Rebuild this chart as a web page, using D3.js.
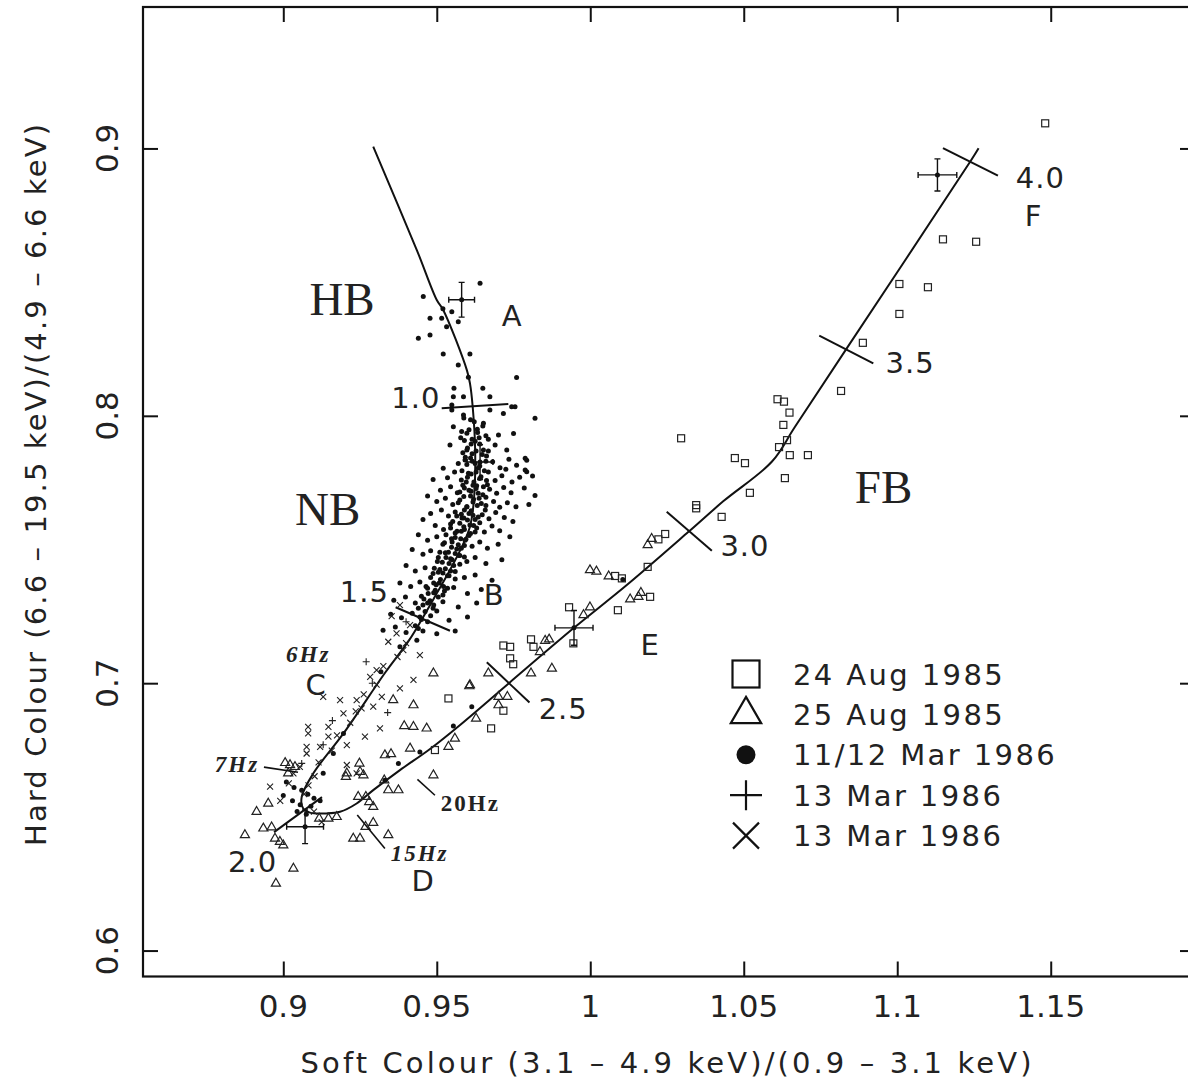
<!DOCTYPE html>
<html>
<head>
<meta charset="utf-8">
<script src="https://cdn.jsdelivr.net/npm/d3@7"></script>
<style>
body { margin:0; background:#fff; }
svg { display:block; font-family:"DejaVu Sans", sans-serif; }
</style>
</head>
<body>
<svg width="1188" height="1083"></svg>
<script>
// tick labels
var xTicks = [0.9, 0.95, 1, 1.05, 1.1, 1.15];
var yTicks = [0.6, 0.7, 0.8, 0.9];

// Z track, HB top down to the 2.0 vertex, then FB up to the end
var zTrack = [[0.9293,0.9007],[0.9435,0.8620],[0.9500,0.8433],[0.9521,0.8396],[0.9598,0.8171],[0.9608,0.8122],[0.9617,0.8034],
	[0.9625,0.7872],[0.9621,0.7685],[0.9608,0.7585],[0.9587,0.7523],[0.9543,0.7423],[0.9500,0.7336],[0.9456,0.7248],[0.9410,0.7161],
	[0.9331,0.7038],[0.9196,0.6812],[0.9098,0.6663],[0.9060,0.6575],[0.9064,0.6533],[0.9087,0.6516],[0.9141,0.6513],[0.9185,0.6519],
	[0.9239,0.6550],[0.9293,0.6600],[0.9380,0.6675],[0.9478,0.6754],[0.9576,0.6844],[0.9736,0.7001],[0.9947,0.7207],[1.0119,0.7367],
	[1.0320,0.7566],[1.0434,0.7681],[1.0592,0.7829],[1.0667,0.7959],[1.0836,0.8253],[1.1238,0.8951],[1.1265,0.9001]];

// rank numbers along the track
var rankLabels = ["1.0", "1.5", "2.0", "2.5", "3.0", "3.5", "4.0"];
var rankFrom = [[0.9516,0.8028],[0.9366,0.7284],[0.8970,0.6443],[0.9663,0.7078],[1.0249,0.7641],[1.0746,0.8300],[1.1149,0.9001]];
var rankTo = [[0.9733,0.8044],[0.9543,0.7196],[0.9126,0.6574],[0.9802,0.6928],[1.0396,0.7495],[1.0922,0.8196],[1.1328,0.8898]];

// 24 Aug 1985
var aug24 = [[1.1482,0.9094],[1.1149,0.8660],[1.1257,0.8651],[1.1007,0.8493],[1.1100,0.8481],[1.1007,0.8381],[1.0888,0.8273],
	[1.0817,0.8093],[1.0610,0.8062],[1.0631,0.8053],[1.0649,0.8012],[1.0629,0.7966],[1.0615,0.7883],[1.0641,0.7909],[1.0650,0.7853],
	[1.0709,0.7853],[1.0634,0.7767],[1.0296,0.7916],[1.0471,0.7842],[1.0504,0.7823],[1.0520,0.7712],[1.0345,0.7666],[1.0345,0.7654],
	[1.0428,0.7622],[1.0244,0.7558],[1.0222,0.7538],[1.0187,0.7435],[1.0081,0.7401],[1.0103,0.7392],[1.0195,0.7323],[1.0090,0.7273],
	[0.9931,0.7284],[0.9945,0.7149],[0.9807,0.7164],[0.9815,0.7136],[0.9717,0.7141],[0.9739,0.7136],[0.9739,0.7093],[0.9749,0.7071],
	[0.9538,0.6943],[0.9717,0.6897],[0.9677,0.6831],[0.9494,0.6750]];

// 25 Aug 1985
var aug25 = [[1.0187,0.7517],[0.9999,0.7423],[1.0020,0.7418],[1.0060,0.7400],[1.0200,0.7540],[0.9999,0.7284],[0.9978,0.7255],
	[0.9853,0.7159],[0.9866,0.7164],[0.9836,0.7117],[0.9875,0.7055],[0.9807,0.7037],[0.9668,0.7037],[0.9608,0.6993],[0.9701,0.6949],
	[0.9730,0.6949],[0.9701,0.6918],[0.9628,0.6868],[0.9467,0.6831],[0.9559,0.6793],[0.9538,0.6762],[0.9489,0.6656],[1.0130,0.7314],
	[1.0157,0.7323],[1.0165,0.7338],[0.9489,0.7037],[0.9606,0.6989],[0.9424,0.6918],[0.9358,0.6937],[0.9394,0.6840],[0.9424,0.6837],
	[0.9413,0.6756],[0.9331,0.6731],[0.9351,0.6735],[0.9248,0.6700],[0.9204,0.6650],[0.9250,0.6669],[0.9261,0.6656],[0.9375,0.6600],
	[0.9342,0.6600],[0.9329,0.6637],[0.9006,0.6702],[0.9022,0.6694],[0.9038,0.6687],[0.9016,0.6663],[0.9244,0.6575],[0.9269,0.6575],
	[0.9280,0.6556],[0.9293,0.6538],[0.9117,0.6494],[0.9147,0.6494],[0.9174,0.6500],[0.9268,0.6463],[0.9293,0.6478],[0.9342,0.6432],
	[0.9228,0.6419],[0.9250,0.6419],[0.8913,0.6519],[0.8875,0.6432],[0.8935,0.6457],[0.8962,0.6461],[0.8973,0.6419],[0.8989,0.6407],
	[0.9000,0.6394],[0.9033,0.6307],[0.8976,0.6251],[0.9207,0.6663],[0.8951,0.6550]];

// 11/12 Mar 1986
var mar11 = [[0.9641,0.8496],[0.9456,0.8446],[0.9478,0.8365],[0.9516,0.8365],[0.9549,0.8389],[0.9570,0.8352],[0.9520,0.8400],
	[0.9440,0.8290],[0.9478,0.8302],[0.9532,0.8333],[0.9521,0.8231],[0.9608,0.8231],[0.9570,0.8190],[0.9760,0.8143],[0.9603,0.8144],
	[0.9556,0.8103],[0.9650,0.8103],[0.9554,0.8071],[0.9587,0.8071],[0.9673,0.8071],[0.9549,0.8040],[0.9755,0.8034],[0.9820,0.7991],
	[0.9549,0.8022],[0.9587,0.8003],[0.9673,0.8022],[0.9717,0.8009],[0.9744,0.8034],
	[0.9554,0.7959],[0.9581,0.7941],[0.9652,0.7972],[0.9701,0.7928],[0.9750,0.7934],[0.9610,0.7985],[0.9632,0.7950],
	[0.9543,0.7891],[0.9598,0.7872],[0.9652,0.7872],[0.9690,0.7891],[0.9728,0.7872],[0.9788,0.7841],[0.9793,0.7791],[0.9625,0.7905],
	[0.9578,0.7918],[0.9668,0.7912],[0.9521,0.7804],[0.9570,0.7822],[0.9593,0.7845],[0.9616,0.7830],[0.9640,0.7812],[0.9662,0.7850],
	[0.9682,0.7828],[0.9706,0.7806],[0.9735,0.7838],[0.9760,0.7815],[0.9488,0.7762],[0.9812,0.7775],
	[0.9535,0.7768],[0.9558,0.7790],[0.9580,0.7760],[0.9603,0.7785],[0.9621,0.7752],[0.9644,0.7772],[0.9668,0.7790],[0.9690,0.7758],
	[0.9712,0.7776],[0.9745,0.7752],[0.9770,0.7770],[0.9725,0.7800],
	[0.9512,0.7722],[0.9545,0.7735],[0.9567,0.7712],[0.9590,0.7730],[0.9612,0.7718],[0.9630,0.7738],[0.9650,0.7705],[0.9672,0.7725],
	[0.9695,0.7710],[0.9718,0.7732],[0.9742,0.7712],[0.9785,0.7730],[0.9820,0.7702],[0.9470,0.7700],
	[0.9500,0.7680],[0.9528,0.7692],[0.9552,0.7668],[0.9575,0.7685],[0.9598,0.7660],[0.9618,0.7678],[0.9638,0.7692],[0.9660,0.7665],
	[0.9685,0.7680],[0.9705,0.7658],[0.9730,0.7675],[0.9758,0.7660],[0.9800,0.7668],
	[0.9480,0.7635],[0.9515,0.7648],[0.9538,0.7625],[0.9560,0.7640],[0.9582,0.7618],[0.9605,0.7635],[0.9625,0.7612],[0.9648,0.7630],
	[0.9670,0.7615],[0.9692,0.7638],[0.9720,0.7620],[0.9748,0.7605],[0.9455,0.7612],
	[0.9495,0.7590],[0.9522,0.7575],[0.9545,0.7595],[0.9566,0.7568],[0.9588,0.7585],[0.9610,0.7560],[0.9630,0.7580],[0.9655,0.7565],
	[0.9680,0.7588],[0.9705,0.7570],[0.9738,0.7548],[0.9440,0.7555],
	[0.9470,0.7535],[0.9500,0.7548],[0.9525,0.7525],[0.9548,0.7540],[0.9570,0.7518],[0.9592,0.7535],[0.9615,0.7512],[0.9640,0.7528],
	[0.9665,0.7505],[0.9700,0.7520],[0.9420,0.7500],
	[0.9455,0.7482],[0.9480,0.7495],[0.9505,0.7470],[0.9528,0.7488],[0.9550,0.7462],[0.9575,0.7478],[0.9598,0.7455],[0.9625,0.7470],
	[0.9660,0.7448],[0.9400,0.7440],[0.9712,0.7462],
	[0.9430,0.7420],[0.9462,0.7432],[0.9488,0.7410],[0.9510,0.7425],[0.9535,0.7402],[0.9560,0.7418],[0.9590,0.7395],[0.9625,0.7405],
	[0.9680,0.7385],[0.9380,0.7375],[0.9415,0.7362],[0.9445,0.7378],[0.9470,0.7355],[0.9498,0.7368],[0.9525,0.7345],[0.9555,0.7358],
	[0.9600,0.7335],[0.9645,0.7350],[0.9360,0.7310],[0.9398,0.7322],[0.9430,0.7300],[0.9458,0.7315],[0.9490,0.7292],[0.9520,0.7305],
	[0.9570,0.7285],[0.9630,0.7300],[0.9350,0.7258],[0.9385,0.7245],[0.9420,0.7262],[0.9450,0.7238],[0.9480,0.7252],[0.9540,0.7235],
	[0.9600,0.7248],[0.9325,0.7198],[0.9365,0.7210],[0.9400,0.7190],[0.9440,0.7205],[0.9500,0.7185],[0.9560,0.7195],
	[0.9605,0.7948],[0.9633,0.7938],[0.9615,0.7912],[0.9640,0.7895],[0.9600,0.7880],[0.9628,0.7868],[0.9648,0.7855],[0.9610,0.7842],
	[0.9598,0.7818],[0.9635,0.7805],[0.9655,0.7795],[0.9612,0.7782],[0.9640,0.7766],[0.9596,0.7752],[0.9618,0.7740],[0.9652,0.7735],
	[0.9605,0.7722],[0.9635,0.7710],[0.9588,0.7698],[0.9620,0.7688],[0.9645,0.7672],[0.9598,0.7660],[0.9612,0.7645],[0.9580,0.7632],
	[0.9635,0.7622],[0.9600,0.7610],[0.9575,0.7598],[0.9620,0.7590],[0.9590,0.7575],[0.9560,0.7562],[0.9605,0.7552],[0.9578,0.7540],
	[0.9550,0.7528],[0.9590,0.7515],[0.9565,0.7502],[0.9538,0.7490],[0.9572,0.7478],[0.9545,0.7465],[0.9518,0.7452],[0.9555,0.7440],
	[0.9528,0.7428],[0.9505,0.7415],[0.9540,0.7402],[0.9512,0.7388],[0.9490,0.7375],[0.9522,0.7362],[0.9495,0.7348],[0.9472,0.7335],
	[0.9505,0.7322],[0.9478,0.7308],[0.9455,0.7292],[0.9488,0.7280],[0.9462,0.7268],
	[0.9588,0.7992],[0.9622,0.7978],[0.9650,0.7962],[0.9598,0.7935],[0.9660,0.7925],[0.9590,0.7908],[0.9638,0.7918],[0.9612,0.7895],
	[0.9585,0.7862],[0.9615,0.7858],[0.9668,0.7868],[0.9592,0.7835],[0.9625,0.7822],[0.9660,0.7830],[0.9582,0.7795],[0.9628,0.7790],
	[0.9600,0.7770],[0.9662,0.7758],[0.9585,0.7740],[0.9628,0.7728],[0.9665,0.7742],[0.9575,0.7715],[0.9610,0.7700],[0.9660,0.7695],
	[0.9570,0.7675],[0.9632,0.7665],[0.9590,0.7648],[0.9658,0.7648],[0.9565,0.7625],[0.9618,0.7628],[0.9588,0.7618],[0.9552,0.7605],
	[0.9640,0.7600],[0.9608,0.7592],[0.9545,0.7580],[0.9580,0.7568],[0.9625,0.7565],[0.9530,0.7555],[0.9595,0.7538],[0.9560,0.7545],
	[0.9520,0.7520],[0.9580,0.7505],[0.9548,0.7508],[0.9510,0.7490],[0.9560,0.7485],[0.9530,0.7470],[0.9590,0.7472],[0.9502,0.7455],
	[0.9540,0.7448],[0.9575,0.7445],[0.9492,0.7430],[0.9545,0.7420],[0.9520,0.7412],[0.9480,0.7395],[0.9560,0.7390],[0.9508,0.7375],
	[0.9465,0.7362],[0.9535,0.7355],[0.9490,0.7338],[0.9450,0.7325],[0.9520,0.7330],[0.9470,0.7300],[0.9440,0.7280],[0.9500,0.7270],
	[0.9445,0.7248],[0.9470,0.7230],[0.9430,0.7215],[0.9455,0.7195],
	[0.9793,0.7834],[0.9788,0.7797],[0.9318,0.7043],[0.9196,0.6812],[0.9163,0.6737],[0.9130,0.6663],[0.9380,0.7136],[0.9435,0.7161],
	[0.9010,0.6630],[0.9035,0.6610],[0.9060,0.6600],[0.9080,0.6585],[0.9100,0.6570],[0.9030,0.6560],[0.9055,0.6545],[0.9090,0.6540],
	[0.9120,0.6560],[0.9000,0.6580],[0.9045,0.6520],[0.9075,0.6510],
	[0.9554,0.6840],[0.9614,0.6912],[1.0106,0.7388],[0.9445,0.6743],[0.9331,0.6637],[0.9375,0.6700]];

// 13 Mar 1986, plus
var mar13p = [[0.9400,0.7230],[0.9290,0.7000],[0.9340,0.6890],[0.9160,0.6860],[0.9130,0.6770],[0.9270,0.7080],[0.9060,0.6700]];

// 13 Mar 1986, cross
var mar13x = [[0.9353,0.7251],[0.9369,0.7186],[0.9413,0.7217],[0.9342,0.7155],[0.9391,0.7124],[0.9445,0.7105],[0.9424,0.7012],
	[0.9380,0.6981],[0.9321,0.6949],[0.9283,0.7024],[0.9304,0.7049],[0.9239,0.6937],[0.9255,0.6906],[0.9293,0.6912],[0.9315,0.6831],
	[0.9266,0.6800],[0.9207,0.6768],[0.9147,0.6837],[0.9147,0.6800],[0.9081,0.6837],[0.9081,0.6812],[0.9076,0.6762],[0.9076,0.6737],
	[0.9120,0.6762],[0.9207,0.6694],[0.9239,0.6663],[0.9033,0.6663],[0.9054,0.6687],[0.9185,0.6937],[0.9196,0.6887],[0.9130,0.6949],
	[0.9380,0.7292],[0.9400,0.7150],[0.9372,0.7098],[0.9326,0.7064],[0.9304,0.6995],[0.9262,0.6958],[0.9236,0.6895],[0.9218,0.6852],
	[0.9175,0.6805],[0.9158,0.6748],[0.9115,0.6704],[0.9102,0.6652],[0.9082,0.6618],[0.9068,0.6585],[0.8957,0.6613],[0.8990,0.6560],
	[0.9018,0.6625],[0.9100,0.6520],[0.9125,0.6480]];

// error bars: x, y, half width, half height
var errBars = [[0.9581,0.8434,0.0042,0.0065],[0.9641,0.7827,0.0042,0.0065],[0.9947,0.7207,0.0062,0.0065],
	[1.1131,0.8901,0.0063,0.0060],[0.9071,0.6463,0.0060,0.0063]];

var legendNames = ["24 Aug 1985", "25 Aug 1985", "11/12 Mar 1986", "13 Mar 1986", "13 Mar 1986"];
var legendShapes = ["square", "triangle", "dot", "plus", "cross"];

function ready() {
	var svg = d3.select("svg");
	var x = d3.scaleLinear().domain([0.8543, 1.1970]).range([143, 1195]);
	var y = d3.scaleLinear().domain([0.5903, 0.9529]).range([976.5, 7]);

	svg.append("defs").append("clipPath").attr("id", "plotClip")
		.append("rect").attr("x", 143).attr("y", 7).attr("width", 1052).attr("height", 969.5);

	// inward ticks on all four sides
	svg.append("g").attr("transform", "translate(0,976.5)")
		.call(d3.axisBottom(x).tickValues(xTicks).tickSize(-15).tickFormat(""));
	svg.append("g").attr("transform", "translate(0,7)")
		.call(d3.axisTop(x).tickValues(xTicks).tickSize(-15).tickFormat(""));
	svg.append("g").attr("transform", "translate(143,0)")
		.call(d3.axisLeft(y).tickValues(yTicks).tickSize(-15).tickFormat(""));
	svg.append("g").attr("transform", "translate(1195,0)")
		.call(d3.axisRight(y).tickValues(yTicks).tickSize(-15).tickFormat(""));
	svg.selectAll(".domain").remove();
	svg.selectAll(".tick line").attr("stroke", "#111").attr("stroke-width", 2);
	svg.append("rect").attr("x", 143).attr("y", 7).attr("width", 1052).attr("height", 969.5)
		.attr("fill", "none").attr("stroke", "#111").attr("stroke-width", 2.2);

	svg.append("g").selectAll("text").data(xTicks).enter().append("text")
		.attr("x", function(d) { return x(d); }).attr("y", 1017)
		.attr("text-anchor", "middle").attr("font-size", 31).attr("fill", "#222")
		.text(function(d) { return d; });
	svg.append("g").selectAll("text").data(yTicks).enter().append("text")
		.attr("transform", function(d) { return "translate(118," + y(d) + ") rotate(-90)"; })
		.attr("text-anchor", "middle").attr("font-size", 31).attr("fill", "#222")
		.text(function(d) { return d.toFixed(1); });

	svg.append("text").attr("x", 666).attr("y", 1073).attr("text-anchor", "middle")
		.attr("font-size", 29).attr("fill", "#222").attr("textLength", 731).attr("lengthAdjust", "spacing")
		.text("Soft Colour (3.1 \u2013 4.9 keV)/(0.9 \u2013 3.1 keV)");
	svg.append("text").attr("transform", "translate(46,485) rotate(-90)").attr("text-anchor", "middle")
		.attr("font-size", 29).attr("fill", "#222").attr("textLength", 722).attr("lengthAdjust", "spacing")
		.text("Hard Colour (6.6 \u2013 19.5 keV)/(4.9 \u2013 6.6 keV)");

	var plot = svg.append("g").attr("clip-path", "url(#plotClip)");

	var line = d3.line().x(function(d) { return x(d[0]); }).y(function(d) { return y(d[1]); })
		.curve(d3.curveCatmullRom.alpha(0.5));
	plot.append("path").datum(zTrack).attr("d", line)
		.attr("fill", "none").attr("stroke", "#111").attr("stroke-width", 2);

	plot.append("g").selectAll("line").data(rankFrom).enter().append("line")
		.attr("x1", function(d) { return x(d[0]); }).attr("y1", function(d) { return y(d[1]); })
		.attr("x2", function(d, i) { return x(rankTo[i][0]); }).attr("y2", function(d, i) { return y(rankTo[i][1]); })
		.attr("stroke", "#111").attr("stroke-width", 2);

	// markers
	plot.append("g").selectAll("rect").data(aug24).enter().append("rect")
		.attr("x", function(d) { return x(d[0]) - 3.5; }).attr("y", function(d) { return y(d[1]) - 3.5; })
		.attr("width", 7).attr("height", 7)
		.attr("fill", "none").attr("stroke", "#222").attr("stroke-width", 1.2);
	var tri = d3.symbol().type(d3.symbolTriangle).size(36);
	plot.append("g").selectAll("path").data(aug25).enter().append("path")
		.attr("transform", function(d) { return "translate(" + x(d[0]) + "," + y(d[1]) + ")"; })
		.attr("d", tri).attr("fill", "none").attr("stroke", "#222").attr("stroke-width", 1.2);
	plot.append("g").selectAll("circle").data(mar11).enter().append("circle")
		.attr("cx", function(d) { return x(d[0]); }).attr("cy", function(d) { return y(d[1]); })
		.attr("r", 2.5).attr("fill", "#111");
	plot.append("g").selectAll("path").data(mar13x).enter().append("path")
		.attr("d", function(d) {
			var cx = x(d[0]), cy = y(d[1]), s = 3;
			return "M" + (cx - s) + "," + (cy - s) + "L" + (cx + s) + "," + (cy + s) +
				"M" + (cx - s) + "," + (cy + s) + "L" + (cx + s) + "," + (cy - s);
		})
		.attr("stroke", "#222").attr("stroke-width", 1.1);
	plot.append("g").selectAll("path").data(mar13p).enter().append("path")
		.attr("d", function(d) {
			var cx = x(d[0]), cy = y(d[1]), s = 3.5;
			return "M" + (cx - s) + "," + cy + "L" + (cx + s) + "," + cy + "M" + cx + "," + (cy - s) + "L" + cx + "," + (cy + s);
		})
		.attr("stroke", "#222").attr("stroke-width", 1.1);

	// error bars with small caps
	plot.append("g").selectAll("path").data(errBars).enter().append("path")
		.attr("d", function(d) {
			var x0 = x(d[0] - d[2]), x1 = x(d[0] + d[2]), y0 = y(d[1] - d[3]), y1 = y(d[1] + d[3]);
			var cx = x(d[0]), cy = y(d[1]), c = 3;
			return "M" + x0 + "," + cy + "L" + x1 + "," + cy +
				"M" + x0 + "," + (cy - c) + "L" + x0 + "," + (cy + c) +
				"M" + x1 + "," + (cy - c) + "L" + x1 + "," + (cy + c) +
				"M" + cx + "," + y0 + "L" + cx + "," + y1 +
				"M" + (cx - c) + "," + y0 + "L" + (cx + c) + "," + y0 +
				"M" + (cx - c) + "," + y1 + "L" + (cx + c) + "," + y1;
		})
		.attr("fill", "none").attr("stroke", "#111").attr("stroke-width", 1.4);
	plot.append("g").selectAll("circle").data(errBars).enter().append("circle")
		.attr("cx", function(d) { return x(d[0]); }).attr("cy", function(d) { return y(d[1]); })
		.attr("r", 2.5).attr("fill", "#111");

	// rank numbers and letters
	var sansLabels = [
		{t:"1.0", x:0.9432, y:0.8029}, {t:"1.5", x:0.9264, y:0.7305}, {t:"2.0", x:0.8900, y:0.6294},
		{t:"2.5", x:0.9912, y:0.6866}, {t:"3.0", x:1.0504, y:0.7476}, {t:"3.5", x:1.1042, y:0.8160},
		{t:"4.0", x:1.1466, y:0.8852},
		{t:"A", x:0.9746, y:0.8336}, {t:"B", x:0.9687, y:0.7292}, {t:"C", x:0.9107, y:0.6956},
		{t:"D", x:0.9456, y:0.6222}, {t:"E", x:1.0195, y:0.7105}, {t:"F", x:1.1444, y:0.8710}];
	svg.append("g").selectAll("text").data(sansLabels).enter().append("text")
		.attr("x", function(d) { return x(d.x); }).attr("y", function(d) { return y(d.y); })
		.attr("text-anchor", "middle").attr("font-size", 29).attr("letter-spacing", 1).attr("fill", "#222")
		.text(function(d) { return d.t; });

	var branchLabels = [{t:"HB", x:0.9085, y:0.8377}, {t:"NB", x:0.9038, y:0.7591}, {t:"FB", x:1.0862, y:0.7674}];
	svg.append("g").selectAll("text").data(branchLabels).enter().append("text")
		.attr("x", function(d) { return x(d.x); }).attr("y", function(d) { return y(d.y); })
		.attr("font-family", "'Liberation Serif', serif").attr("font-size", 47).attr("fill", "#222")
		.text(function(d) { return d.t; });

	var hzLabels = [{t:"6Hz", x:0.9009, y:0.7080, it:true}, {t:"7Hz", x:0.8777, y:0.6669, it:true},
		{t:"20Hz", x:0.9513, y:0.6523, it:false}, {t:"15Hz", x:0.9350, y:0.6334, it:true}];
	svg.append("g").selectAll("text").data(hzLabels).enter().append("text")
		.attr("x", function(d) { return x(d.x); }).attr("y", function(d) { return y(d.y); })
		.attr("font-family", "'Liberation Serif', serif").attr("font-weight", "bold")
		.attr("font-style", function(d) { return d.it ? "italic" : "normal"; })
		.attr("font-size", 23).attr("letter-spacing", 2).attr("fill", "#222")
		.text(function(d) { return d.t; });

	var hzLeaders = [[[0.8937,0.6686],[0.9048,0.6667]], [[0.9437,0.6640],[0.9494,0.6581]], [[0.9241,0.6507],[0.9331,0.6382]]];
	svg.append("g").selectAll("line").data(hzLeaders).enter().append("line")
		.attr("x1", function(d) { return x(d[0][0]); }).attr("y1", function(d) { return y(d[0][1]); })
		.attr("x2", function(d) { return x(d[1][0]); }).attr("y2", function(d) { return y(d[1][1]); })
		.attr("stroke", "#111").attr("stroke-width", 1.6);

	// legend
	var legend = svg.append("g").attr("transform", "translate(746,674)");
	var rows = legend.selectAll("g").data(legendNames).enter().append("g")
		.attr("transform", function(d, i) { return "translate(0," + (i * 40.4) + ")"; });
	rows.append("text").attr("x", 47).attr("y", 10.5).attr("font-size", 29).attr("letter-spacing", 2.4)
		.attr("fill", "#222").text(function(d) { return d; });
	rows.each(function(d, i) {
		var g = d3.select(this), kind = legendShapes[i];
		if(kind == "square") {
			g.append("rect").attr("x", -13.5).attr("y", -13.5).attr("width", 27).attr("height", 27)
				.attr("fill", "none").attr("stroke", "#111").attr("stroke-width", 2.2);
		} else if(kind == "triangle") {
			g.append("path").attr("d", d3.symbol().type(d3.symbolTriangle).size(400))
				.attr("fill", "none").attr("stroke", "#111").attr("stroke-width", 2.2);
		} else if(kind == "dot") {
			g.append("circle").attr("r", 9.5).attr("fill", "#111");
		} else if(kind == "plus") {
			g.append("path").attr("d", "M-16,0L16,0M0,-15L0,15").attr("stroke", "#111").attr("stroke-width", 2.2);
		} else {
			g.append("path").attr("d", "M-13,-13L13,13M-13,13L13,-13").attr("stroke", "#111").attr("stroke-width", 2.2);
		}
	});
}

ready();
</script>
</body>
</html>
